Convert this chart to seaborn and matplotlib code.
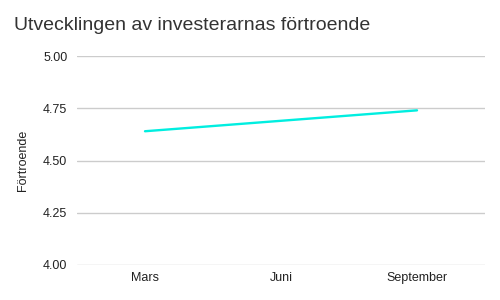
import matplotlib
matplotlib.use("Agg")
import matplotlib.pyplot as plt
import seaborn as sns
import pandas as pd

months = ["Mars", "Juni", "September"]
confidence = [4.64, 4.69, 4.74]
yticks = [4.00, 4.25, 4.50, 4.75, 5.00]

sns.set_style("white")
plt.rcParams['font.family'] = ['Liberation Sans', 'DejaVu Sans']

df = pd.DataFrame({"Månad": months, "Förtroende": confidence})

fig = plt.figure(figsize=(5, 3), dpi=100)
ax = fig.add_axes([0.154, 0.1167, 0.816, 0.6966])
sns.lineplot(data=df, x="Månad", y="Förtroende", ax=ax, color="#00EEE0", linewidth=1.7, sort=False)

ax.set_xlim(-0.5, 2.5)
ax.set_ylim(4.0, 5.0)
ax.set_yticks(yticks)
ax.set_yticklabels([f"{v:.2f}" for v in yticks])
ax.yaxis.grid(True, color="#cccccc", linewidth=1)
ax.set_axisbelow(True)
for s in ax.spines.values():
    s.set_visible(False)
ax.tick_params(axis="both", length=0, labelsize=9, colors="#222222")
ax.tick_params(axis="y", pad=7)
ax.tick_params(axis="x", pad=5)
ax.set_xlabel("")
ax.set_ylabel("Förtroende", fontsize=9, color="#222222", labelpad=10)
fig.text(14/500, 1 - 26/300, "Utvecklingen av investerarnas förtroende", fontsize=14,
         color="#333333", ha="left", va="center")

fig.savefig("out.png", dpi=100)
